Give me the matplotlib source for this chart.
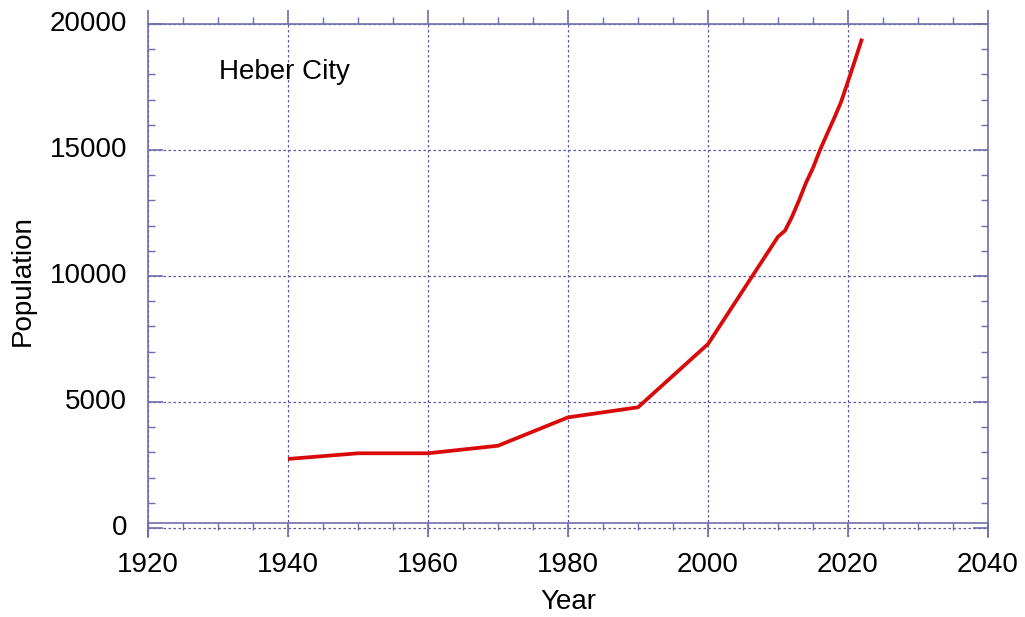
import matplotlib
matplotlib.use("Agg")
import matplotlib.pyplot as plt
import matplotlib.transforms as mtransforms
from matplotlib.ticker import MultipleLocator

years = [1940, 1950, 1960, 1970, 1980, 1990, 2000, 2010, 2011, 2012, 2013,
         2014, 2015, 2016, 2017, 2018, 2019, 2020, 2021, 2022]
population = [2740, 2965, 2965, 3265, 4390, 4790, 7300, 11560, 11800, 12350,
              13000, 13700, 14290, 15000, 15630, 16250, 16900, 17720, 18560, 19420]
title_text = "Heber City"
x_label = "Year"
y_label = "Population"

plt.rcParams['font.family'] = ['Liberation Sans', 'DejaVu Sans']
axis_color = '#6e6eae'
grid_color = '#5a5aa8'

fig = plt.figure(figsize=(10.25, 6.17), dpi=100)
W, H = 1025, 617
left, right, top, bottom = 148, 988, 24, 537
ax = fig.add_axes([left / W, (H - bottom) / H, (right - left) / W, (bottom - top) / H])

ax.plot(years, population, color='#d80a0a', lw=2.7, solid_capstyle='butt', zorder=3)

ax.set_xlim(1920, 2040)
ax.set_ylim(-357, 20000)

ax.xaxis.set_major_locator(MultipleLocator(20))
ax.xaxis.set_minor_locator(MultipleLocator(5))
ax.yaxis.set_minor_locator(MultipleLocator(1000))
ax.set_yticks([0, 5000, 10000, 15000, 20000])

for s in ax.spines.values():
    s.set_color(axis_color)
    s.set_linewidth(1.2)
ax.spines['bottom'].set_position(('data', 198))

fs = 20
ax.tick_params(axis='x', which='major', direction='out', length=10, width=1.2,
               color=axis_color, top=True, bottom=True, labelsize=fs, pad=11,
               labelcolor='black')
ax.tick_params(axis='x', which='minor', direction='out', length=5, width=1.0,
               color=axis_color, top=True, bottom=True)
ax.tick_params(axis='y', which='major', direction='in', length=11, width=1.2,
               color=axis_color, left=True, right=True, labelsize=fs, pad=15,
               labelcolor='black')
ax.tick_params(axis='y', which='minor', direction='in', length=5, width=1.0,
               color=axis_color, left=True, right=True)

# shift y tick labels slightly upward as in the reference
offset = mtransforms.ScaledTranslation(0, 3 / 100, fig.dpi_scale_trans)
for lab in ax.get_yticklabels():
    lab.set_transform(lab.get_transform() + offset)

ax.grid(True, which='major', linestyle=(0, (2, 2)), color=grid_color, linewidth=0.9)
ax.set_axisbelow(True)

ax.text(0.0845, 0.906, title_text, transform=ax.transAxes, fontsize=fs,
        ha='left', va='center', color='black')

ax.set_xlabel(x_label, fontsize=fs, labelpad=8)
ax.set_ylabel(y_label, fontsize=fs, labelpad=10)

fig.savefig("out.png", dpi=100, facecolor='white')
